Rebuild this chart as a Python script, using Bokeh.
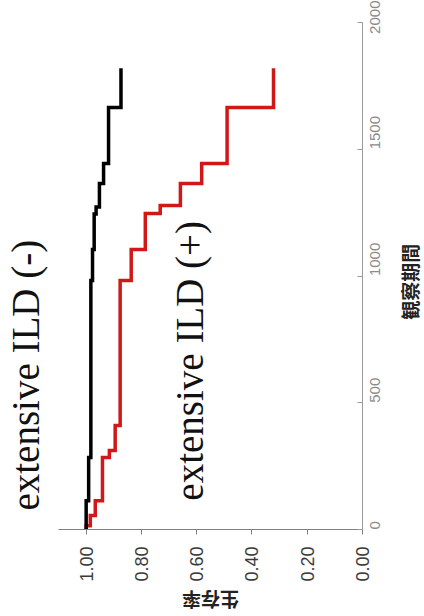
from math import pi

from bokeh.embed import file_html
from bokeh.models import FixedTicker, Label, Range1d
from bokeh.plotting import figure
from bokeh.resources import INLINE

# Axis ticks
surv_ticks = [0.0, 0.2, 0.4, 0.6, 0.8, 1.0]
surv_labels = ["0.00", "0.20", "0.40", "0.60", "0.80", "1.00"]
day_ticks = [0, 500, 1000, 1500, 2000]
day_labels = ["0", "500", "1000", "1500", "2000"]

# Kaplan-Meier curves: day of each step and survival from that day on
neg_days = [0, 114, 284, 982, 1105, 1245, 1272, 1365, 1444, 1665]
neg_surv = [1.000, 0.991, 0.983, 0.977, 0.971, 0.964, 0.952, 0.937, 0.919, 0.874]
neg_end = 1820

pos_days = [0, 15, 55, 114, 284, 312, 410, 982, 1105, 1247, 1278, 1365, 1444, 1665]
pos_surv = [1.000, 0.985, 0.967, 0.941, 0.916, 0.895, 0.877, 0.837, 0.786, 0.732,
            0.659, 0.582, 0.490, 0.322]
pos_end = 1820


def km_path(days, surv, end):
    """Step path with time on the vertical axis and survival on the horizontal."""
    xs, ys = [], []
    for i, (d, s) in enumerate(zip(days, surv)):
        nxt = days[i + 1] if i + 1 < len(days) else end
        xs += [s, s]
        ys += [d, nxt]
    return xs, ys


# The frame fills the whole canvas; both axes are pinned at 0 so that their
# labels and the titles sit inside it.
p = figure(
    width=424, height=616,
    x_range=Range1d(1.31, -0.2244), y_range=Range1d(-343, 2087),
    y_axis_location="right",
    output_backend="svg", toolbar_location=None,
    min_border_left=0, min_border_right=0,
    min_border_top=0, min_border_bottom=0,
)
p.outline_line_color = None
p.xgrid.visible = False
p.ygrid.visible = False
p.background_fill_color = "white"
p.border_fill_color = "white"

# survival axis (bottom, at day 0)
xa = p.xaxis[0]
xa.fixed_location = 0
xa.bounds = (0.0, 1.1)
xa.ticker = FixedTicker(ticks=surv_ticks)
xa.major_label_overrides = dict(zip(surv_ticks, surv_labels))
xa.major_label_orientation = pi / 2
xa.major_label_text_font = "Liberation Sans"
xa.major_label_text_font_size = "18px"
xa.major_label_text_color = "#3a3a3a"
xa.major_label_standoff = 12
xa.major_tick_in = 0
xa.major_tick_out = 5
xa.minor_tick_line_color = None
xa.axis_line_color = "#808080"
xa.major_tick_line_color = "#808080"

# observation-period axis (right, at survival 0)
ya = p.yaxis[0]
ya.fixed_location = 0
ya.bounds = (0, 2000)
ya.ticker = FixedTicker(ticks=day_ticks)
ya.major_label_overrides = dict(zip(day_ticks, day_labels))
ya.major_label_orientation = pi / 2
ya.major_label_text_font = "Liberation Sans"
ya.major_label_text_font_size = "15px"
ya.major_label_text_color = "#8a8a8a"
ya.major_label_standoff = 13
ya.major_tick_in = 5
ya.major_tick_out = 0
ya.minor_tick_line_color = None
ya.axis_line_color = "#9a9a9a"
ya.major_tick_line_color = "#9a9a9a"

nx, ny = km_path(neg_days, neg_surv, neg_end)
px, py = km_path(pos_days, pos_surv, pos_end)
p.line(px, py, line_color="#d01818", line_width=3.5, line_join="miter")
p.line(nx, ny, line_color="#000000", line_width=3.5, line_join="miter")

# group labels
for txt, lx, ly in [("extensive ILD (-)", 1.22, 75), ("extensive ILD (+)", 0.625, 114)]:
    p.add_layout(Label(x=lx, y=ly, text=txt, angle=pi / 2,
                       text_align="left", text_baseline="alphabetic",
                       text_font="Liberation Serif", text_font_size="39px",
                       text_color="#111111"))

# axis titles
p.add_layout(Label(x=0.55, y=-280, text="生存率", angle=pi,
                   text_align="center", text_baseline="middle",
                   text_font="Noto Sans CJK JP", text_font_style="bold",
                   text_font_size="19px", text_color="#222222"))
p.add_layout(Label(x=-0.170, y=978, text="観察期間", angle=pi / 2,
                   text_align="center", text_baseline="middle",
                   text_font="Noto Sans CJK JP", text_font_style="bold",
                   text_font_size="19px", text_color="#222222"))

open("out.html", "w").write(file_html(p, INLINE))
